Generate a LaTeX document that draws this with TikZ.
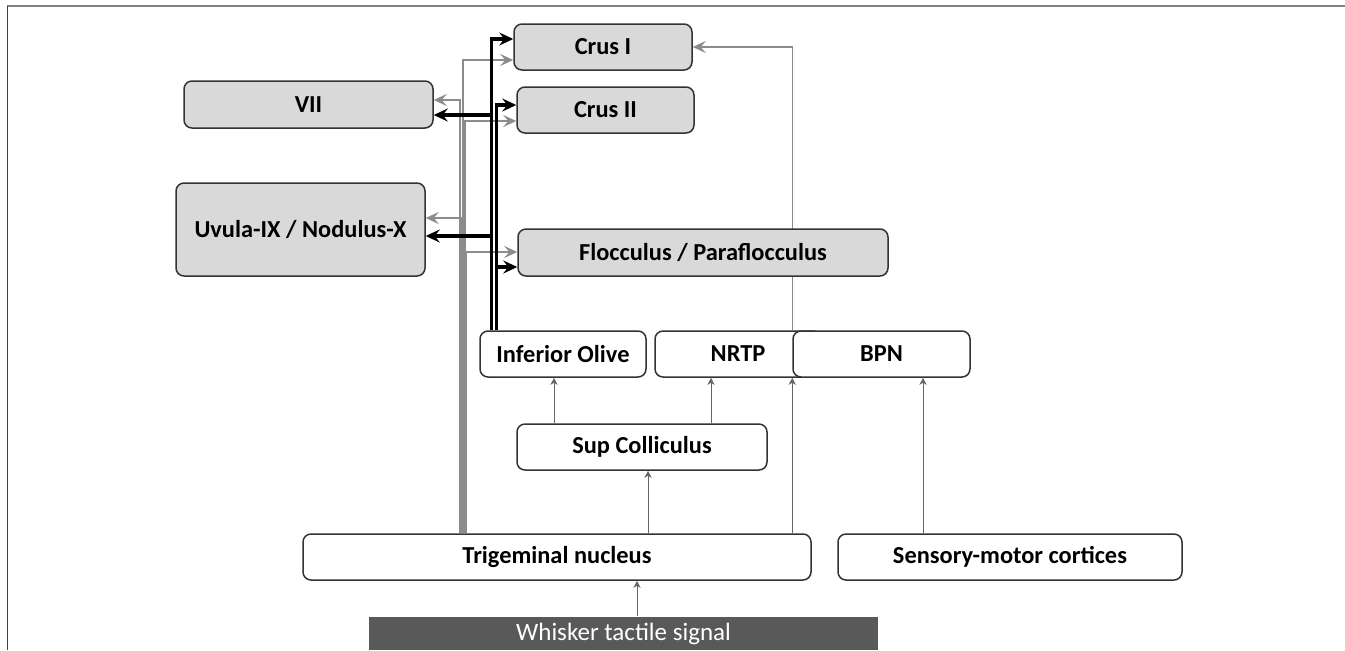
\documentclass[tikz,border=0pt]{standalone}
\usepackage{fontspec}
\setmainfont{Carlito}
\usetikzlibrary{arrows.meta,backgrounds}

\tikzset{every picture/.style={line width=0.75pt}}
\tikzset{
  area/.style={draw=black!80, fill=black!15, rounded corners=4pt, line width=0.75pt,
    minimum height=23pt, inner sep=0pt, font=\fontsize{12.2}{15}\selectfont\bfseries},
  relay/.style={area, fill=white},
  signal/.style={fill=black!65, text=white, inner sep=0pt, minimum height=16.5pt,
    font=\fontsize{12.5}{15}\selectfont},
  gpath/.style={draw=black!45, line width=1.1pt, -{Stealth[length=6.5pt,width=6pt,inset=2.5pt]}},
  gthin/.style={draw=black!45, line width=0.75pt, -{Stealth[length=6.5pt,width=6pt,inset=2.5pt]}},
  bpath/.style={draw=black, line width=1.6pt, -{Stealth[length=7pt,width=6.5pt,inset=2.5pt]}},
  feed/.style={draw=black!60, line width=0.5pt, -{Stealth[length=3.5pt,width=3.5pt,inset=1pt]}},
}

\begin{document}
\begin{tikzpicture}[x=0.5pt,y=0.5pt,yscale=-1,xscale=1]
\useasboundingbox (0,0) rectangle (1345,650);

%Frame
\draw [black!50, line width=1.3pt] (7,6) -- (1345,6) ;
\draw [black!75, line width=0.5pt] (7,6) -- (7,650) ;

% Cerebellar targets
\node [area, minimum width=89pt] (crusI) at (603,47) {Crus I};
\node [area, minimum width=88.5pt] (crusII) at (605.5,110) {Crus II};
\node [area, minimum width=124.5pt, minimum height=23.5pt] (vii) at (308.5,104.5) {VII};
\node [area, minimum width=124.5pt, minimum height=46.5pt] (uvula) at (300.5,229.5) {Uvula-IX / Nodulus-X};
\node [area, minimum width=185pt, minimum height=23.5pt] (floc) at (703,252.5) {Flocculus / Paraflocculus};

% Relay nuclei
\node [relay, minimum width=83pt] (io) at (563,354) {Inferior Olive};
\node [relay, minimum width=83pt] (nrtp) at (738,354) {NRTP};
\node [relay, minimum width=88.5pt] (bpn) at (881.5,354) {BPN};
\node [relay, minimum width=125pt] (supc) at (642,447) {Sup Colliculus};
\node [relay, minimum width=254pt] (trig) at (557,557) {Trigeminal nucleus};
\node [relay, minimum width=172pt] (sens) at (1010,557) {Sensory-motor cortices};
\node [signal, minimum width=254.5pt] (whisk) at (623.5,633.5) {Whisker tactile signal};

% bundle columns
\coordinate (g1) at (460,0);
\coordinate (g2) at (461.5,0);
\coordinate (g3) at (463,0);
\coordinate (g4) at (464.5,0);
\coordinate (g5) at (466,0);
\coordinate (b1) at (491.5,0);
\coordinate (b2) at (496.5,0);

\begin{scope}[on background layer]
%Trigeminal projections
\draw [gpath] (trig.north -| g1) |- (vii.east |- 0,100) ;
\draw [gpath] (trig.north -| g2) |- (uvula.east |- 0,218) ;
\draw [gpath] (trig.north -| g3) |- (crusI.west |- 0,60) ;
\draw [gpath] (trig.north -| g4) |- (crusII.west |- 0,121) ;
\draw [gpath] (trig.north -| g5) |- (floc.west |- 0,252) ;
%Olivary projections
\draw [bpath] (io.north -| b1) |- (crusI.west |- 0,39) ;
\draw [bpath] (io.north -| b1) |- (vii.east |- 0,115) ;
\draw [bpath] (io.north -| b1) |- (uvula.east |- 0,236) ;
\draw [bpath] (io.north -| b2) |- (crusII.west |- 0,105) ;
\draw [bpath] (io.north -| b2) |- (floc.west |- 0,267) ;
%Pontine projection
\draw [gthin] (bpn.north west) |- (crusI.east) ;
\end{scope}

%Ascending inputs
\draw [feed] (whisk.north -| 637,0) -- (trig.south -| 637,0) ;
\draw [feed] (trig.north -| 648,0) -- (supc.south -| 648,0) ;
\draw [feed] (trig.north -| bpn.south west) -- (bpn.south west) ;
\draw [feed] (sens.north -| 923,0) -- (bpn.south -| 923,0) ;
\draw [feed] (supc.north -| 554,0) -- (io.south -| 554,0) ;
\draw [feed] (supc.north -| 711,0) -- (nrtp.south -| 711,0) ;

\end{tikzpicture}
\end{document}
